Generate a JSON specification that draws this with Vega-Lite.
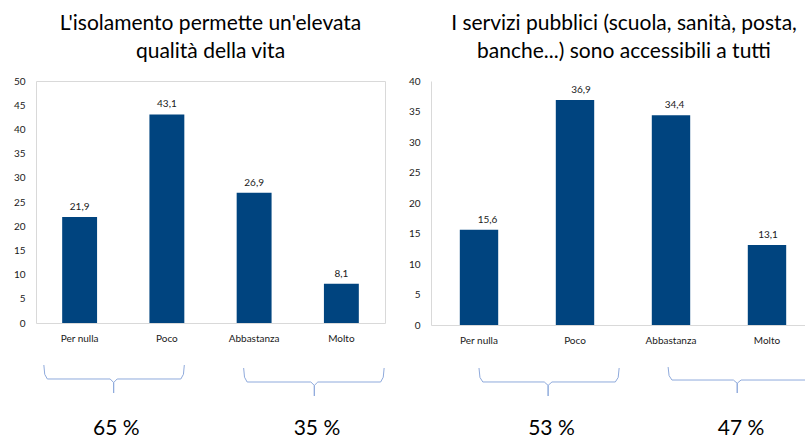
{
  "$schema": "https://vega.github.io/schema/vega-lite/v6.json",
  "padding": {"left": 12, "top": 12, "right": 0, "bottom": 0},
  "spacing": 21,
  "background": "white",
  "config": {
    "font": "Lato",
    "view": {"stroke": "#d9d9d9", "strokeWidth": 1},
    "axis": {"domain": false, "ticks": false, "grid": false, "labelFont": "Lato", "labelFontSize": 10, "labelColor": "#1a1a1a", "labelOverlap": false, "domainColor": "#d9d9d9"},
    "axisX": {"labelAngle": 0, "labelPadding": 10},
    "axisY": {"labelPadding": 11},
    "title": {"font": "Lato", "fontSize": 21, "fontWeight": "normal", "color": "#000000", "anchor": "middle", "frame": "group", "lineHeight": 28},
    "locale": {"number": {"decimal": ",", "thousands": ".", "grouping": [3], "currency": ["", " €"]}}
  },
  "datasets": {
    "isolamento": [
      {"cat": "Per nulla", "val": 21.9},
      {"cat": "Poco", "val": 43.1},
      {"cat": "Abbastanza", "val": 26.9},
      {"cat": "Molto", "val": 8.1}
    ],
    "servizi": [
      {"cat": "Per nulla", "val": 15.6},
      {"cat": "Poco", "val": 36.9},
      {"cat": "Abbastanza", "val": 34.4},
      {"cat": "Molto", "val": 13.1}
    ],
    "braceL": [
      {"brace": "b1", "o": 0, "px": 0.09, "py": -8.68},
      {"brace": "b1", "o": 1, "px": 0.10, "py": -10.6},
      {"brace": "b1", "o": 2, "px": 0.13, "py": -11.57},
      {"brace": "b1", "o": 3, "px": 0.85, "py": -11.57},
      {"brace": "b1", "o": 4, "px": 0.89, "py": -12.3},
      {"brace": "b1", "o": 5, "px": 0.89, "py": -14.46},
      {"brace": "b1", "o": 6, "px": 0.89, "py": -12.3},
      {"brace": "b1", "o": 7, "px": 0.93, "py": -11.57},
      {"brace": "b1", "o": 8, "px": 1.66, "py": -11.57},
      {"brace": "b1", "o": 9, "px": 1.69, "py": -10.6},
      {"brace": "b1", "o": 10, "px": 1.70, "py": -8.68},
      {"brace": "b2", "o": 0, "px": 2.38, "py": -9.3},
      {"brace": "b2", "o": 1, "px": 2.39, "py": -11.2},
      {"brace": "b2", "o": 2, "px": 2.42, "py": -12.19},
      {"brace": "b2", "o": 3, "px": 3.15, "py": -12.19},
      {"brace": "b2", "o": 4, "px": 3.19, "py": -12.9},
      {"brace": "b2", "o": 5, "px": 3.19, "py": -15.08},
      {"brace": "b2", "o": 6, "px": 3.19, "py": -12.9},
      {"brace": "b2", "o": 7, "px": 3.23, "py": -12.19},
      {"brace": "b2", "o": 8, "px": 3.95, "py": -12.19},
      {"brace": "b2", "o": 9, "px": 3.98, "py": -11.2},
      {"brace": "b2", "o": 10, "px": 3.99, "py": -9.3}
    ],
    "braceR": [
      {"brace": "b3", "o": 0, "px": 0.50, "py": -7.05},
      {"brace": "b3", "o": 1, "px": 0.51, "py": -8.6},
      {"brace": "b3", "o": 2, "px": 0.54, "py": -9.34},
      {"brace": "b3", "o": 3, "px": 1.18, "py": -9.34},
      {"brace": "b3", "o": 4, "px": 1.22, "py": -9.9},
      {"brace": "b3", "o": 5, "px": 1.22, "py": -11.64},
      {"brace": "b3", "o": 6, "px": 1.22, "py": -9.9},
      {"brace": "b3", "o": 7, "px": 1.26, "py": -9.34},
      {"brace": "b3", "o": 8, "px": 1.92, "py": -9.34},
      {"brace": "b3", "o": 9, "px": 1.95, "py": -8.6},
      {"brace": "b3", "o": 10, "px": 1.96, "py": -7.05},
      {"brace": "b4", "o": 0, "px": 2.47, "py": -6.89},
      {"brace": "b4", "o": 1, "px": 2.48, "py": -8.3},
      {"brace": "b4", "o": 2, "px": 2.51, "py": -9.02},
      {"brace": "b4", "o": 3, "px": 3.15, "py": -9.02},
      {"brace": "b4", "o": 4, "px": 3.19, "py": -9.55},
      {"brace": "b4", "o": 5, "px": 3.19, "py": -11.15},
      {"brace": "b4", "o": 6, "px": 3.19, "py": -9.55},
      {"brace": "b4", "o": 7, "px": 3.23, "py": -9.02},
      {"brace": "b4", "o": 8, "px": 3.9, "py": -9.02}
    ],
    "pctL": [
      {"label": "65 %", "px": 0.92, "py": -23.14},
      {"label": "35 %", "px": 3.22, "py": -23.14}
    ],
    "pctR": [
      {"label": "53 %", "px": 1.255, "py": -18.03},
      {"label": "47 %", "px": 3.23, "py": -18.03}
    ]
  },
  "hconcat": [
    {
      "title": {"text": ["L'isolamento permette un'elevata", "qualità della vita"], "offset": 14},
      "width": 349,
      "height": 242,
      "layer": [
        {
          "data": {"name": "isolamento"},
          "mark": {"type": "bar", "color": "#00447f"},
          "encoding": {
            "x": {"field": "cat", "type": "nominal", "sort": null, "title": null, "scale": {"paddingInner": 0.6, "paddingOuter": 0.3}},
            "y": {"field": "val", "type": "quantitative", "title": null, "scale": {"domain": [0, 50], "nice": false}, "axis": {"values": [0, 5, 10, 15, 20, 25, 30, 35, 40, 45, 50]}}
          }
        },
        {
          "data": {"name": "isolamento"},
          "mark": {"type": "text", "baseline": "alphabetic", "dy": -7, "fontSize": 10, "color": "#1a1a1a"},
          "encoding": {
            "x": {"field": "cat", "type": "nominal", "sort": null, "title": null, "axis": null, "scale": {"paddingInner": 0.6, "paddingOuter": 0.3}},
            "y": {"field": "val", "type": "quantitative", "title": null, "scale": {"domain": [0, 50], "nice": false}, "axis": {"values": [0, 5, 10, 15, 20, 25, 30, 35, 40, 45, 50]}},
            "text": {"field": "val", "type": "quantitative", "format": ".1f"}
          }
        },
        {
          "data": {"name": "braceL"},
          "mark": {"type": "line", "color": "#8faadc", "strokeWidth": 1},
          "encoding": {
            "x": {"field": "px", "type": "quantitative", "title": null, "axis": null, "scale": {"domain": [0, 4], "nice": false, "zero": false}},
            "y": {"field": "py", "type": "quantitative", "title": null, "scale": {"domain": [0, 50], "nice": false}, "axis": {"values": [0, 5, 10, 15, 20, 25, 30, 35, 40, 45, 50]}},
            "detail": {"field": "brace", "type": "nominal"},
            "order": {"field": "o", "type": "quantitative"}
          }
        },
        {
          "data": {"name": "pctL"},
          "mark": {"type": "text", "baseline": "alphabetic", "fontSize": 21, "color": "#000000"},
          "encoding": {
            "x": {"field": "px", "type": "quantitative", "title": null, "axis": null, "scale": {"domain": [0, 4], "nice": false, "zero": false}},
            "y": {"field": "py", "type": "quantitative", "title": null, "scale": {"domain": [0, 50], "nice": false}, "axis": {"values": [0, 5, 10, 15, 20, 25, 30, 35, 40, 45, 50]}},
            "text": {"field": "label", "type": "nominal"}
          }
        }
      ],
      "resolve": {"scale": {"x": "independent"}, "axis": {"x": "independent"}}
    },
    {
      "title": {"text": ["I servizi pubblici (scuola, sanità, posta,", "banche...) sono accessibili a tutti"], "offset": 14, "dx": 6},
      "width": 374,
      "height": 244,
      "view": {"stroke": null},
      "layer": [
        {
          "data": {"name": "servizi"},
          "mark": {"type": "bar", "color": "#00447f"},
          "encoding": {
            "x": {"field": "cat", "type": "nominal", "sort": null, "title": null, "scale": {"paddingInner": 0.6, "paddingOuter": 0.248, "align": 0.605}, "axis": {"domain": true}},
            "y": {"field": "val", "type": "quantitative", "title": null, "scale": {"domain": [0, 40], "nice": false}, "axis": {"values": [0, 5, 10, 15, 20, 25, 30, 35, 40], "domain": true}}
          }
        },
        {
          "mark": {"type": "rule", "color": "#d9d9d9", "strokeWidth": 1},
          "encoding": {
            "y": {"datum": 40, "type": "quantitative", "title": null, "scale": {"domain": [0, 40], "nice": false}, "axis": {"values": [0, 5, 10, 15, 20, 25, 30, 35, 40], "domain": true}}
          }
        },
        {
          "data": {"name": "servizi"},
          "mark": {"type": "text", "baseline": "alphabetic", "dy": -7, "fontSize": 10, "color": "#1a1a1a"},
          "encoding": {
            "x": {"field": "cat", "type": "nominal", "sort": null, "title": null, "axis": null, "scale": {"paddingInner": 0.6, "paddingOuter": 0.248, "align": 0.605}},
            "y": {"field": "val", "type": "quantitative", "title": null, "scale": {"domain": [0, 40], "nice": false}, "axis": {"values": [0, 5, 10, 15, 20, 25, 30, 35, 40], "domain": true}},
            "text": {"field": "val", "type": "quantitative", "format": ".1f"}
          }
        },
        {
          "data": {"name": "braceR"},
          "mark": {"type": "line", "color": "#8faadc", "strokeWidth": 1},
          "encoding": {
            "x": {"field": "px", "type": "quantitative", "title": null, "axis": null, "scale": {"domain": [0, 3.896], "nice": false, "zero": false}},
            "y": {"field": "py", "type": "quantitative", "title": null, "scale": {"domain": [0, 40], "nice": false}, "axis": {"values": [0, 5, 10, 15, 20, 25, 30, 35, 40], "domain": true}},
            "detail": {"field": "brace", "type": "nominal"},
            "order": {"field": "o", "type": "quantitative"}
          }
        },
        {
          "data": {"name": "pctR"},
          "mark": {"type": "text", "baseline": "alphabetic", "fontSize": 21, "color": "#000000"},
          "encoding": {
            "x": {"field": "px", "type": "quantitative", "title": null, "axis": null, "scale": {"domain": [0, 3.896], "nice": false, "zero": false}},
            "y": {"field": "py", "type": "quantitative", "title": null, "scale": {"domain": [0, 40], "nice": false}, "axis": {"values": [0, 5, 10, 15, 20, 25, 30, 35, 40], "domain": true}},
            "text": {"field": "label", "type": "nominal"}
          }
        }
      ],
      "resolve": {"scale": {"x": "independent"}, "axis": {"x": "independent"}}
    }
  ]
}
